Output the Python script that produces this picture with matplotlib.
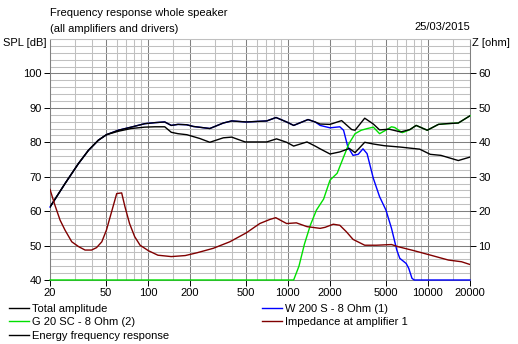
import matplotlib
matplotlib.use("Agg")
import matplotlib.pyplot as plt
from matplotlib.ticker import FixedLocator, NullFormatter

plt.rcParams["font.family"] = ["Liberation Sans", "DejaVu Sans"]
plt.rcParams["font.size"] = 8

# total amplitude (dB SPL)
tot_f = [20, 25.6, 31.9, 37.7, 44.3, 50.6, 61.5, 76, 95, 112, 132, 147, 164, 189, 211,
         277, 346, 397, 505, 707, 823, 980, 1100, 1393, 1567, 1700, 2000, 2421, 2856,
         3020, 3540, 4080, 4520, 5300, 6390, 7450, 8250, 9900, 11900, 13600, 16500, 20000]
tot_db = [61.2, 68.0, 73.8, 77.7, 80.6, 82.2, 83.5, 84.4, 85.4, 85.7, 85.9, 84.9, 85.2, 85.1, 84.6,
          84.0, 85.6, 86.2, 85.9, 86.2, 87.2, 85.9, 84.9, 86.6, 85.9, 85.3, 85.2, 86.3, 83.7,
          83.5, 87.0, 85.3, 83.6, 83.8, 83.0, 83.7, 84.9, 83.5, 85.2, 85.4, 85.6, 87.7]

# energy frequency response (dB SPL)
en_f = [20, 25.6, 31.9, 37.7, 44.3, 50.6, 61.5, 76, 95, 112, 132, 147, 164, 190, 235,
        277, 346, 397, 495, 707, 830, 980, 1100, 1370, 1567, 1700, 2000, 2350, 2750,
        3020, 3540, 4080, 4900, 6390, 8750, 10400, 12400, 16500, 20000]
en_db = [61.2, 68.0, 73.8, 77.7, 80.6, 82.2, 83.2, 84.0, 84.4, 84.5, 84.5, 82.9, 82.5, 82.2, 81.1,
         80.0, 81.3, 81.5, 80.1, 80.1, 81.0, 80.0, 78.9, 80.1, 78.9, 78.1, 76.6, 77.2, 78.2,
         77.0, 80.0, 79.5, 79.0, 78.6, 78.0, 76.5, 76.2, 74.7, 75.7]

# woofer W 200 S (1): identical to the total below ~1.4 kHz
wf_f = tot_f[:24] + [1567, 1700, 2000, 2350, 2500, 2680, 2920, 3180, 3440, 3680, 4080,
                     4520, 5020, 5500, 6000, 6300, 7000, 7300, 7700, 7990, 20000]
wf_db = tot_db[:24] + [85.9, 84.9, 84.2, 84.5, 83.5, 78.7, 76.2, 76.5, 78.1, 76.7, 69.5,
                       64.2, 60.3, 55.0, 48.7, 46.3, 44.8, 43.4, 40.5, 40.0, 40.0]

# tweeter G 20 SC (2): identical to the total above ~7.5 kHz
tw_f = [20, 1100, 1200, 1315, 1450, 1600, 1800, 2000, 2250, 2500, 2730, 3020, 3340, 3700,
        4080, 4520, 5000, 5500, 5800, 6560, 7000] + tot_f[35:]
tw_db = [40.0, 40.0, 44.0, 50.5, 56.0, 60.3, 63.5, 69.0, 71.0, 75.7, 79.6, 82.5, 83.5, 84.0,
         84.4, 82.5, 83.5, 84.5, 84.3, 82.8, 83.2] + tot_db[35:]

# impedance at amplifier 1 (ohm)
z_f = [20, 21.7, 23.6, 25.6, 28.6, 32, 35.6, 39.6, 43, 46.9, 50.6, 55.5, 59.9, 65, 68.6,
       74, 80.5, 88, 101, 118, 147, 185, 224, 293, 385, 505, 630, 745, 820, 900, 980,
       1150, 1370, 1700, 1845, 2110, 2350, 2620, 2920, 3540, 4290, 5500, 6100, 7990,
       10500, 14000, 17400, 20000]
z_ohm = [26.3, 21.7, 17.4, 14.5, 11.1, 9.7, 8.7, 8.7, 9.4, 11.1, 14.5, 20.3, 25.1, 25.3, 21.3,
         16.4, 12.6, 10.1, 8.5, 7.2, 6.8, 7.1, 7.9, 9.2, 11.1, 13.7, 16.4, 17.6, 18.1, 17.2, 16.4,
         16.6, 15.5, 15.0, 15.3, 16.2, 15.9, 14.0, 11.8, 10.1, 10.1, 10.3, 9.7, 8.5,
         7.2, 5.8, 5.3, 4.5]

x_major = [20, 50, 100, 200, 500, 1000, 2000, 5000, 10000, 20000]
x_minor = [30, 40, 60, 70, 80, 90, 150, 300, 400, 600, 700, 800, 900, 1500, 3000, 4000,
           6000, 7000, 8000, 9000, 15000]

W, H = 518, 344
fig = plt.figure(figsize=(W / 100, H / 100), dpi=100)
ax = fig.add_axes([50 / W, 1 - 280 / H, 420 / W, 241 / H])
ax.set_xscale("log")
ax.set_xlim(20, 20000)
ax.set_ylim(40, 110)

ax.xaxis.set_major_locator(FixedLocator(x_major))
ax.xaxis.set_minor_locator(FixedLocator(x_minor))
ax.xaxis.set_minor_formatter(NullFormatter())
ax.set_xticklabels([str(v) for v in x_major])
ax.set_yticks(range(40, 101, 10))
ax.set_yticks(range(40, 111, 2), minor=True)
ax.grid(which="minor", color="#c0c0c0", lw=0.75, zorder=0)
ax.grid(which="major", color="#808080", lw=0.75, zorder=0)
ax.tick_params(which="major", length=4, width=0.7, pad=2, colors="black")
ax.tick_params(which="minor", length=0)
for side, s in ax.spines.items():
    s.set_color("#808080")
    s.set_linewidth(0.75)
ax.spines["top"].set_color("#c0c0c0")

# flat parts sit on the 40 dB floor, so don't clip them at the axes edge
ax.plot(wf_f, wf_db, color="#0000ff", lw=1.0, zorder=3, clip_on=False)
ax.plot(tw_f, tw_db, color="#00e000", lw=1.0, zorder=3, clip_on=False)
ax.plot(en_f, en_db, color="black", lw=1.0, zorder=4)
ax.plot(tot_f, tot_db, color="black", lw=1.0, zorder=4)

axz = ax.twinx()
axz.set_ylim(0, 70)
axz.set_yticks(range(10, 61, 10))
axz.tick_params(length=4, width=0.7, pad=2)
for s in axz.spines.values():
    s.set_visible(False)
axz.plot(z_f, z_ohm, color="#800000", lw=1.0, zorder=3)

ax.plot([], [], color="black", lw=1.0, label="Total amplitude")
ax.plot([], [], color="#00e000", lw=1.0, label="G 20 SC - 8 Ohm (2)")
ax.plot([], [], color="black", lw=1.0, label="Energy frequency response")
ax.plot([], [], color="#0000ff", lw=1.0, label="W 200 S - 8 Ohm (1)")
ax.plot([], [], color="#800000", lw=1.0, label="Impedance at amplifier 1")
fig.legend(*ax.get_legend_handles_labels(), loc="upper left",
           bbox_to_anchor=(9 / W, 1 - 304 / H), ncol=2, frameon=False,
           handlelength=1.8, handletextpad=0.25, labelspacing=0.3,
           columnspacing=8.4, borderpad=0, borderaxespad=0)

fig.text(50 / W, 1 - 13 / H, "Frequency response whole speaker", va="center", ha="left")
fig.text(50 / W, 1 - 29 / H, "(all amplifiers and drivers)", va="center", ha="left")
fig.text(470 / W, 1 - 27 / H, "25/03/2015", va="center", ha="right")
fig.text(3 / W, 1 - 43 / H, "SPL [dB]", va="center", ha="left")
fig.text(472 / W, 1 - 43 / H, "Z [ohm]", va="center", ha="left")

fig.savefig("out.png", dpi=100)
